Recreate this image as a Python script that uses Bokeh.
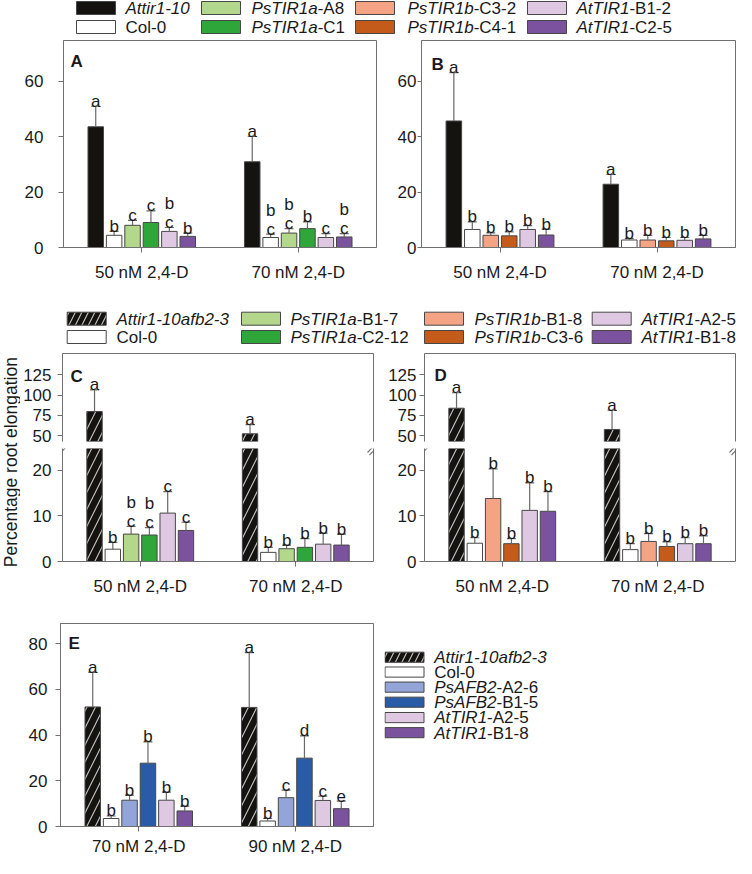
import numpy as np
from bokeh.plotting import figure
from bokeh.layouts import row, column
from bokeh.models import FactorRange, Range1d, FixedTicker, LinearAxis, Arrow, ColumnDataSource
from bokeh.transform import dodge
from bokeh.core.properties import value
from bokeh.embed import file_html
from bokeh.resources import INLINE

# ======================= DATA =======================
groups_50_70 = ["50 nM 2,4-D", "70 nM 2,4-D"]
groups_70_90 = ["70 nM 2,4-D", "90 nM 2,4-D"]

A_lines = ["Attir1-10", "Col-0", "PsTIR1a-A8", "PsTIR1a-C1", "AtTIR1-B1-2", "AtTIR1-C2-5"]
A_50_mean = [43.5, 4.4, 8.0, 9.0, 5.8, 4.0]
A_50_se = [7.4, 1.4, 1.8, 4.2, 1.4, 1.2]
A_50_sig = ["a", "b", "c", "c", "bc", "b"]
A_70_mean = [30.9, 3.6, 5.2, 6.8, 3.6, 3.8]
A_70_se = [9.1, 1.2, 1.6, 2.4, 1.4, 1.2]
A_70_sig = ["a", "bc", "bc", "b", "c", "bc"]

B_lines = ["Attir1-10", "Col-0", "PsTIR1b-C3-2", "PsTIR1b-C4-1", "AtTIR1-B1-2", "AtTIR1-C2-5"]
B_50_mean = [45.6, 6.5, 4.4, 4.2, 6.5, 4.5]
B_50_se = [17.4, 2.7, 0.9, 1.4, 1.4, 2.1]
B_50_sig = ["a", "b", "b", "b", "b", "b"]
B_70_mean = [22.8, 2.7, 2.7, 2.4, 2.6, 3.1]
B_70_se = [3.5, 0.5, 1.7, 1.2, 1.0, 1.3]
B_70_sig = ["a", "b", "b", "b", "b", "b"]

C_lines = ["Attir1-10afb2-3", "Col-0", "PsTIR1a-B1-7", "PsTIR1a-C2-12", "AtTIR1-A2-5", "AtTIR1-B1-8"]
C_50_mean = [79.7, 2.7, 6.0, 5.8, 10.6, 6.8]
C_50_se = [26.8, 1.5, 1.7, 1.6, 4.7, 1.8]
C_50_sig = ["a", "b", "bc", "bc", "c", "c"]
C_70_mean = [52.1, 2.0, 2.8, 3.1, 3.8, 3.6]
C_70_se = [11.5, 1.1, 0.8, 1.9, 2.4, 2.4]
C_70_sig = ["a", "b", "b", "b", "b", "b"]

D_lines = ["Attir1-10afb2-3", "Col-0", "PsTIR1b-B1-8", "PsTIR1b-C3-6", "AtTIR1-A2-5", "AtTIR1-B1-8"]
D_50_mean = [83.8, 4.0, 13.8, 3.9, 11.2, 11.0]
D_50_se = [19.1, 1.2, 6.5, 1.1, 6.0, 4.3]
D_50_sig = ["a", "b", "b", "b", "b", "b"]
D_70_mean = [57.5, 2.6, 4.4, 3.3, 3.9, 3.9]
D_70_se = [23.8, 1.3, 1.7, 1.0, 1.3, 1.7]
D_70_sig = ["a", "b", "b", "b", "b", "b"]

E_lines = ["Attir1-10afb2-3", "Col-0", "PsAFB2-A2-6", "PsAFB2-B1-5", "AtTIR1-A2-5", "AtTIR1-B1-8"]
E_70_mean = [52.3, 3.5, 11.5, 27.7, 11.5, 6.8]
E_70_se = [15.1, 1.1, 2.2, 9.3, 3.5, 2.1]
E_70_sig = ["a", "b", "b", "b", "b", "b"]
E_90_mean = [52.1, 2.4, 12.6, 29.9, 11.4, 7.8]
E_90_se = [24.0, 1.1, 3.3, 9.7, 1.9, 3.3]
E_90_sig = ["a", "b", "c", "d", "c", "e"]

ylabel_text = "Percentage root elongation"
yticks_AB = [0, 20, 40, 60]
yticks_low = [0, 10, 20]
yticks_up = [50, 75, 100, 125]
yticks_E = [0, 20, 40, 60, 80]

legend1_items = [("Attir1-10", ""), ("", "Col-0"), ("PsTIR1a", "-A8"), ("PsTIR1a", "-C1"),
                 ("PsTIR1b", "-C3-2"), ("PsTIR1b", "-C4-1"), ("AtTIR1", "-B1-2"), ("AtTIR1", "-C2-5")]
legend2_items = [("Attir1-10afb2-3", ""), ("", "Col-0"), ("PsTIR1a", "-B1-7"), ("PsTIR1a", "-C2-12"),
                 ("PsTIR1b", "-B1-8"), ("PsTIR1b", "-C3-6"), ("AtTIR1", "-A2-5"), ("AtTIR1", "-B1-8")]
legend3_items = [("Attir1-10afb2-3", ""), ("", "Col-0"), ("PsAFB2", "-A2-6"), ("PsAFB2", "-B1-5"),
                 ("AtTIR1", "-A2-5"), ("AtTIR1", "-B1-8")]

# ======================= STYLE =======================
FONT = "Liberation Sans"
FS = "17px"
TXT = "#1a1a1a"
AXC = "#707070"
BARLINE = "#474747"
ERRC = "#6a6a6a"
BLACK = "#15130f"; WHITE = "#ffffff"; LGREEN = "#b3d88b"; GREEN = "#2ea63a"
SALMON = "#f4a384"; ORANGE = "#c45b1b"; LAV = "#dec8e2"; PURPLE = "#7b529e"
LBLUE = "#93a4d8"; BLUE = "#2a5ba7"
A_colors = [BLACK, WHITE, LGREEN, GREEN, LAV, PURPLE]
B_colors = [BLACK, WHITE, SALMON, ORANGE, LAV, PURPLE]
E_colors = [BLACK, WHITE, LBLUE, BLUE, LAV, PURPLE]
leg12_colors = [BLACK, WHITE, LGREEN, GREEN, SALMON, ORANGE, LAV, PURPLE]
HATCH = dict(hatch_pattern="/", hatch_color="#c4c4c4", hatch_scale=17, hatch_weight=1.1)

STEP = 0.1176
BARW = 0.099
GAP = 7          # pixel gap of the broken axis
UP_H = 88        # upper frame height (px)
LOW_H = 113      # lower frame height (px)

ARIAL = {'A': 667, 't': 278, 'i': 222, 'r': 333, '1': 556, '-': 333, '0': 556, 'P': 667, 's': 500,
         'T': 611, 'I': 278, 'R': 722, 'a': 556, 'b': 556, 'f': 278, '2': 556, '3': 556, 'F': 611, 'B': 667}


def text_w(s, px=17):
    return sum(ARIAL.get(c, 556) for c in s) / 1000.0 * px


def style_axis(ax, standoff, tick_out=5):
    ax.axis_line_color = AXC
    ax.axis_line_width = 1
    ax.major_tick_line_color = AXC
    ax.major_tick_out = tick_out
    ax.major_tick_in = 0
    ax.minor_tick_line_color = None
    ax.major_label_standoff = standoff
    ax.major_label_text_font = FONT
    ax.major_label_text_font_size = FS
    ax.major_label_text_color = TXT


def edge_axis():
    return LinearAxis(ticker=FixedTicker(ticks=[]), axis_line_color=AXC, major_tick_out=0,
                      major_tick_in=0, minor_tick_out=0, minor_tick_in=0, major_label_standoff=0,
                      major_label_text_font_size="0px")


def make_fig(w, h, groups, yr, yticks, bl, bt, br, bb, ystand, xaxis=True, outline=True, xstand=10, ytick_out=5):
    p = figure(width=w, height=h, x_range=FactorRange(factors=list(groups)), y_range=Range1d(*yr),
               output_backend="svg", toolbar_location=None,
               x_axis_location="below" if xaxis else None,
               min_border_left=bl, min_border_top=bt, min_border_right=br, min_border_bottom=bb)
    p.xgrid.visible = False
    p.ygrid.visible = False
    p.outline_line_color = AXC if outline else None
    p.outline_line_alpha = 1
    p.left[0].ticker = FixedTicker(ticks=yticks)
    style_axis(p.left[0], ystand, ytick_out)
    if xaxis:
        style_axis(p.below[0], xstand)
    return p


def draw_bars(p, groups, means, ses, sigs, colors, hatch_first, ylo, yhi):
    """Draw the bars of one axis segment [ylo, yhi]; parts outside the segment are left out."""
    base = max(0.0, ylo)
    for i in range(6):
        off = (i - 2.5) * STEP
        bar = dict(x=[], top=[])
        eb = dict(x=[], top=[], err=[])
        lo = dict(x=[], y=[], t=[])
        hi = dict(x=[], y=[], t=[])
        for g, grp in enumerate(groups):
            m = means[g][i]
            e = m + ses[g][i]
            if m > base:
                bar["x"].append(grp); bar["top"].append(min(m, yhi))
            if m <= yhi and e >= ylo:
                eb["x"].append(grp); eb["top"].append(max(m, ylo)); eb["err"].append(e)
            if ylo <= e <= yhi:
                s = sigs[g][i]
                lo["x"].append(grp); lo["y"].append(e); lo["t"].append(s[-1])
                if len(s) > 1:
                    hi["x"].append(grp); hi["y"].append(e); hi["t"].append(s[0])
        xd = dodge("x", off, range=p.x_range)
        if bar["x"]:
            kw = dict(fill_color=colors[i], line_color=BARLINE, line_width=1)
            if hatch_first and i == 0:
                kw.update(HATCH)
            p.vbar(x=xd, top="top", bottom=base, width=BARW, source=ColumnDataSource(bar), **kw)
        if eb["x"]:
            esrc = ColumnDataSource(eb)
            p.segment(x0=xd, y0="top", x1=xd, y1="err", source=esrc, line_color=ERRC, line_width=1.2)
            p.scatter(x=xd, y="err", marker="dash", size=9, line_color=ERRC, line_width=1.2, source=esrc)
        tkw = dict(text_font=value(FONT), text_font_size=FS, text_color=TXT,
                   text_align="center", text_baseline="alphabetic")
        if lo["x"]:
            p.text(x=xd, y="y", text="t", y_offset=-5, source=ColumnDataSource(lo), **tkw)
        if hi["x"]:
            p.text(x=xd, y="y", text="t", y_offset=-24, source=ColumnDataSource(hi), **tkw)


def panel_letter(p, letter, ytop, dx, dy):
    p.text(x=[0], y=[ytop], text=[letter], x_offset=dx, y_offset=dy, text_baseline="top",
           text_align="left", text_font=value(FONT), text_font_size=FS, text_font_style="bold",
           text_color=TXT)


# break marks: pixel geometry relative to (frame edge, top of lower frame), dy > 0 is up
BREAK_SEGS = [(-6, -4, 4, 6.5), (-4, -6.5, 6, 4)]


def add_breaks(p, edges, yref, ppu_x, ppu_y, dy_shift):
    for xe in edges:
        for (dx0, dy0, dx1, dy1) in BREAK_SEGS:
            p.add_layout(Arrow(end=None,
                               x_start=xe + dx0 / ppu_x, y_start=yref + (dy0 + dy_shift) / ppu_y,
                               x_end=xe + dx1 / ppu_x, y_end=yref + (dy1 + dy_shift) / ppu_y,
                               line_color=AXC, line_width=1.1))


def legend_fig(w, h, items, colors, px, tx, ys, hatch_first, ph=13, pw=39):
    p = figure(width=w, height=h, x_range=Range1d(0, w), y_range=Range1d(h, 0),
               x_axis_type=None, y_axis_type=None, output_backend="svg", toolbar_location=None,
               min_border=0)
    p.outline_line_color = None
    p.xgrid.visible = False
    p.ygrid.visible = False
    for k, (it, nm) in enumerate(items):
        kw = dict(fill_color=colors[k], line_color=BARLINE, line_width=1)
        if hatch_first and k == 0:
            kw.update(hatch_pattern="/", hatch_color="#c4c4c4", hatch_scale=13, hatch_weight=1.1)
        p.quad(left=[px[k]], right=[px[k] + pw], top=[ys[k]], bottom=[ys[k] + ph], **kw)
        yc = ys[k] + ph / 2.0 + 0.5
        tkw = dict(text_font=value(FONT), text_font_size=FS, text_color=TXT,
                   text_align="left", text_baseline="middle")
        if it:
            p.text(x=[tx[k]], y=[yc], text=[it], text_font_style="italic", **tkw)
        if nm:
            p.text(x=[tx[k] + text_w(it)], y=[yc], text=[nm], **tkw)
    return p


# ======================= LEGEND 1 =======================
leg1 = legend_fig(736, 38, legend1_items, leg12_colors,
                  px=[76, 76, 201, 201, 355, 355, 527, 527],
                  tx=[125, 125, 251, 251, 407, 407, 576, 576],
                  ys=[1, 20] * 4, hatch_first=False)

# ======================= PANELS A, B =======================
yr_AB = (0, 74.6)
pA = make_fig(385, 260, groups_50_70, yr_AB, yticks_AB, 63, 2, 9, 51, ystand=15)
draw_bars(pA, groups_50_70, [A_50_mean, A_70_mean], [A_50_se, A_70_se], [A_50_sig, A_70_sig],
          A_colors, False, *yr_AB)
panel_letter(pA, "A", yr_AB[1], 7, 11)

pB = make_fig(351, 260, groups_50_70, yr_AB, yticks_AB, 36, 2, 1, 51, ystand=1, ytick_out=4)
draw_bars(pB, groups_50_70, [B_50_mean, B_70_mean], [B_50_se, B_70_se], [B_50_sig, B_70_sig],
          B_colors, False, *yr_AB)
panel_letter(pB, "B", yr_AB[1], 10, 14)

# ======================= LEGEND 2 =======================
leg2 = legend_fig(736, 50, legend2_items, leg12_colors,
                  px=[66.7, 66.7, 241, 241, 424, 424, 591.7, 591.7],
                  tx=[116, 116, 290, 290, 474, 474, 641, 641],
                  ys=[13.7, 32] * 4, hatch_first=True)

# ======================= PANELS C, D (broken axis) =======================
yr_up = (42.6, 151.5)
yr_low = (0, 24.75)


def broken_pair(w, bl, br, lines_means, ses, sigs, colors, letter, ldx, ldy, ystand):
    up = make_fig(w, 5 + UP_H + 4, groups_50_70, yr_up, yticks_up, bl, 5, br, 4, ystand=ystand,
                  xaxis=False, outline=False)
    up.add_layout(edge_axis(), "above")
    up.add_layout(edge_axis(), "right")
    draw_bars(up, groups_50_70, lines_means, ses, sigs, colors, True, *yr_up)
    panel_letter(up, letter, yr_up[1], ldx, ldy)
    low = make_fig(w, 3 + LOW_H + 37, groups_50_70, yr_low, yticks_low, bl, 3, br, 37, ystand=ystand,
                   outline=False)
    low.add_layout(edge_axis(), "right")
    draw_bars(low, groups_50_70, lines_means, ses, sigs, colors, True, *yr_low)
    fw = w - bl - br
    ppu_low = LOW_H / (yr_low[1] - yr_low[0])
    ppu_up = UP_H / (yr_up[1] - yr_up[0])
    add_breaks(low, [0, 2], yr_low[1], fw / 2.0, ppu_low, 0)
    add_breaks(up, [0, 2], yr_up[0], fw / 2.0, ppu_up, -GAP)
    return up, low


pCu, pCl = broken_pair(365, 40, 12, [C_50_mean, C_70_mean], [C_50_se, C_70_se], [C_50_sig, C_70_sig],
                       A_colors, "C", 8, 13, ystand=6)
pDu, pDl = broken_pair(351, 39, 1, [D_50_mean, D_70_mean], [D_50_se, D_70_se], [D_50_sig, D_70_sig],
                       B_colors, "D", 10, 12, ystand=3)

pyl = figure(width=20, height=250, x_range=Range1d(0, 20), y_range=Range1d(0, 250),
             x_axis_type=None, y_axis_type=None, output_backend="svg", toolbar_location=None,
             min_border=0)
pyl.outline_line_color = None
pyl.xgrid.visible = False
pyl.ygrid.visible = False
pyl.text(x=[10], y=[250 - 113.7], text=[ylabel_text], angle=np.pi / 2, text_align="center",
         text_baseline="middle", text_font=value(FONT), text_font_size="17.5px", text_color=TXT)

# ======================= PANEL E =======================
yr_E = (0, 88.8)
pE = make_fig(384, 260, groups_70_90, yr_E, yticks_E, 60, 25, 11, 30, ystand=8, xstand=5)
draw_bars(pE, groups_70_90, [E_70_mean, E_90_mean], [E_70_se, E_90_se], [E_70_sig, E_90_sig],
          E_colors, True, *yr_E)
panel_letter(pE, "E", yr_E[1], 8, 10)

leg3 = legend_fig(352, 260, legend3_items, [BLACK, WHITE, LBLUE, BLUE, LAV, PURPLE],
                  px=[0.5] * 6, tx=[49.7] * 6,
                  ys=[36.7, 55.7, 75, 94.3, 114, 133.3], hatch_first=True)

layout = column(
    leg1,
    row(pA, pB),
    leg2,
    row(pyl, column(pCu, pCl), column(pDu, pDl)),
    row(pE, leg3),
)

open("out.html", "w").write(file_html(layout, INLINE))
